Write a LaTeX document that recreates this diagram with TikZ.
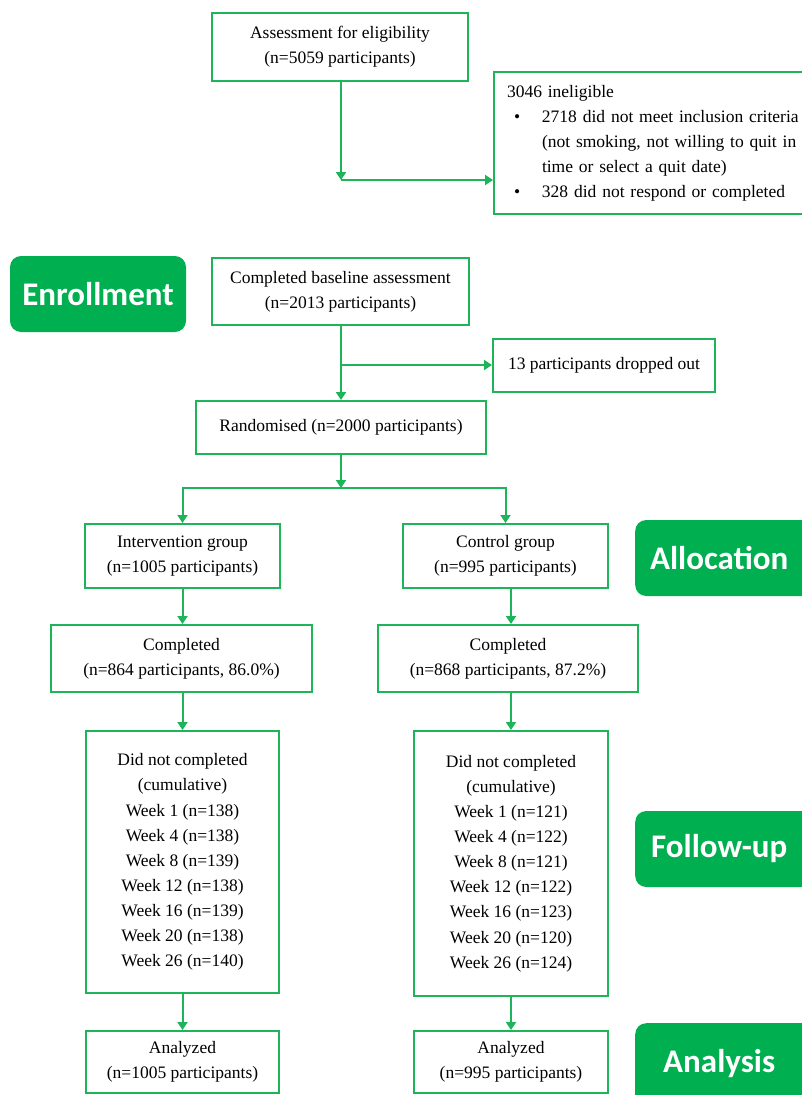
\documentclass[tikz,border=0pt]{standalone}
\usepackage{fontspec}
\setmainfont{Liberation Serif}
\newfontfamily\stagefont{Carlito}
\usepackage{tikz}
\usetikzlibrary{arrows.meta,shapes,positioning}
\usepackage{xcolor}
\definecolor{cgreen}{RGB}{0,176,80}
\definecolor{clinegreen}{RGB}{30,180,90}
\tikzstyle{arrow} = [line width=2pt,-{Triangle[length=8pt,width=10pt]},color=clinegreen]
\tikzstyle{box} = [rectangle, draw=clinegreen, line width=2pt, align=center, inner sep=3pt, font=\fontsize{17.5}{25.1}\selectfont]
\tikzstyle{stage} = [rectangle, rounded corners=11pt, fill=cgreen, text=white, minimum height=76pt, font=\stagefont\bfseries\fontsize{33}{36}\selectfont]

\begin{document}
\begin{tikzpicture}[x=1pt, y=-1pt]
\useasboundingbox (0,0) rectangle (801,1095);
% Screening
\node (assess) [box, minimum width=256pt, minimum height=68pt] at (340,47) {Assessment for eligibility\\(n=5059 participants)};
\node (inelig) [box, anchor=north west, align=left, inner sep=13pt, text width=316pt, minimum height=138pt] at (493,71)
  {3046 ineligible\\
   \hspace*{7pt}\makebox[28pt][l]{\textbullet}2718 did not meet inclusion criteria\\
   \hspace*{35pt}(not smoking, not willing to quit in\\
   \hspace*{35pt}time or select a quit date)\\
   \hspace*{7pt}\makebox[28pt][l]{\textbullet}328 did not respond or completed};
\coordinate (elig) at (341,180);
\draw[arrow] (assess.south -| elig) -- (elig);
\draw[arrow] (elig) -- (elig -| inelig.west);

% Enrollment
\node (enroll) [stage, minimum width=176pt] at (98,294) {Enrollment};
\node (base) [box, minimum width=257pt, minimum height=67pt] at (340.5,291.5) {Completed baseline assessment\\(n=2013 participants)};
\node (drop) [box, minimum width=222pt, minimum height=53pt] at (604,365.5) {13 participants dropped out};
\node (rand) [box, minimum width=290pt, minimum height=53pt] at (341,427.5) {Randomised (n=2000 participants)};
\coordinate (split) at (341,365);
\draw[arrow] (base.south -| split) -- (rand.north -| split);
\draw[arrow] (split) -- (drop.west |- split);

% Allocation
\coordinate (fork) at (341,488);
\draw[arrow] (rand.south -| fork) -- (fork);
\node (inter) [box, minimum width=195pt, minimum height=64pt] at (182.5,556) {Intervention group\\(n=1005 participants)};
\node (ctrl) [box, minimum width=205pt, minimum height=64pt] at (505.5,556) {Control group\\(n=995 participants)};
\node (alloc) [stage, anchor=west, minimum width=200pt] at (635,558) {\hspace*{-32pt}Allocation};
\draw[arrow] (fork) -| (inter.north);
\draw[arrow] (fork) -| (ctrl.north);

% Follow-up
\node (compI) [box, minimum width=261pt, minimum height=67pt] at (181.5,658.5) {Completed\\(n=864 participants, 86.0\%)};
\node (compC) [box, minimum width=260pt, minimum height=67pt] at (508,658.5) {Completed\\(n=868 participants, 87.2\%)};
\node (dncI) [box, minimum width=193pt, minimum height=262pt] at (182.5,862) {Did not completed\\(cumulative)\\Week 1 (n=138)\\Week 4 (n=138)\\Week 8 (n=139)\\Week 12 (n=138)\\Week 16 (n=139)\\Week 20 (n=138)\\Week 26 (n=140)};
\node (dncC) [box, minimum width=194pt, minimum height=265pt] at (511,863.5) {Did not completed\\(cumulative)\\Week 1 (n=121)\\Week 4 (n=122)\\Week 8 (n=121)\\Week 12 (n=122)\\Week 16 (n=123)\\Week 20 (n=120)\\Week 26 (n=124)};
\node (follow) [stage, anchor=west, minimum width=200pt] at (635,849) {\hspace*{-32pt}Follow-up};
\draw[arrow] (inter) -- (compI.north -| inter);
\draw[arrow] (ctrl.south -| dncC) -- (compC.north -| dncC);
\draw[arrow] (compI.south -| dncI) -- (dncI);
\draw[arrow] (compC.south -| dncC) -- (dncC);

% Analysis
\node (anaI) [box, minimum width=193pt, minimum height=62pt] at (182.5,1062) {Analyzed\\(n=1005 participants)};
\node (anaC) [box, minimum width=194pt, minimum height=62pt] at (511,1062) {Analyzed\\(n=995 participants)};
\node (analysis) [stage, anchor=north west, minimum width=200pt, minimum height=90pt] at (635,1023) {\hspace*{-32pt}\raisebox{14pt}{Analysis}};
\draw[arrow] (dncI) -- (anaI);
\draw[arrow] (dncC) -- (anaC);
\end{tikzpicture}
\end{document}
